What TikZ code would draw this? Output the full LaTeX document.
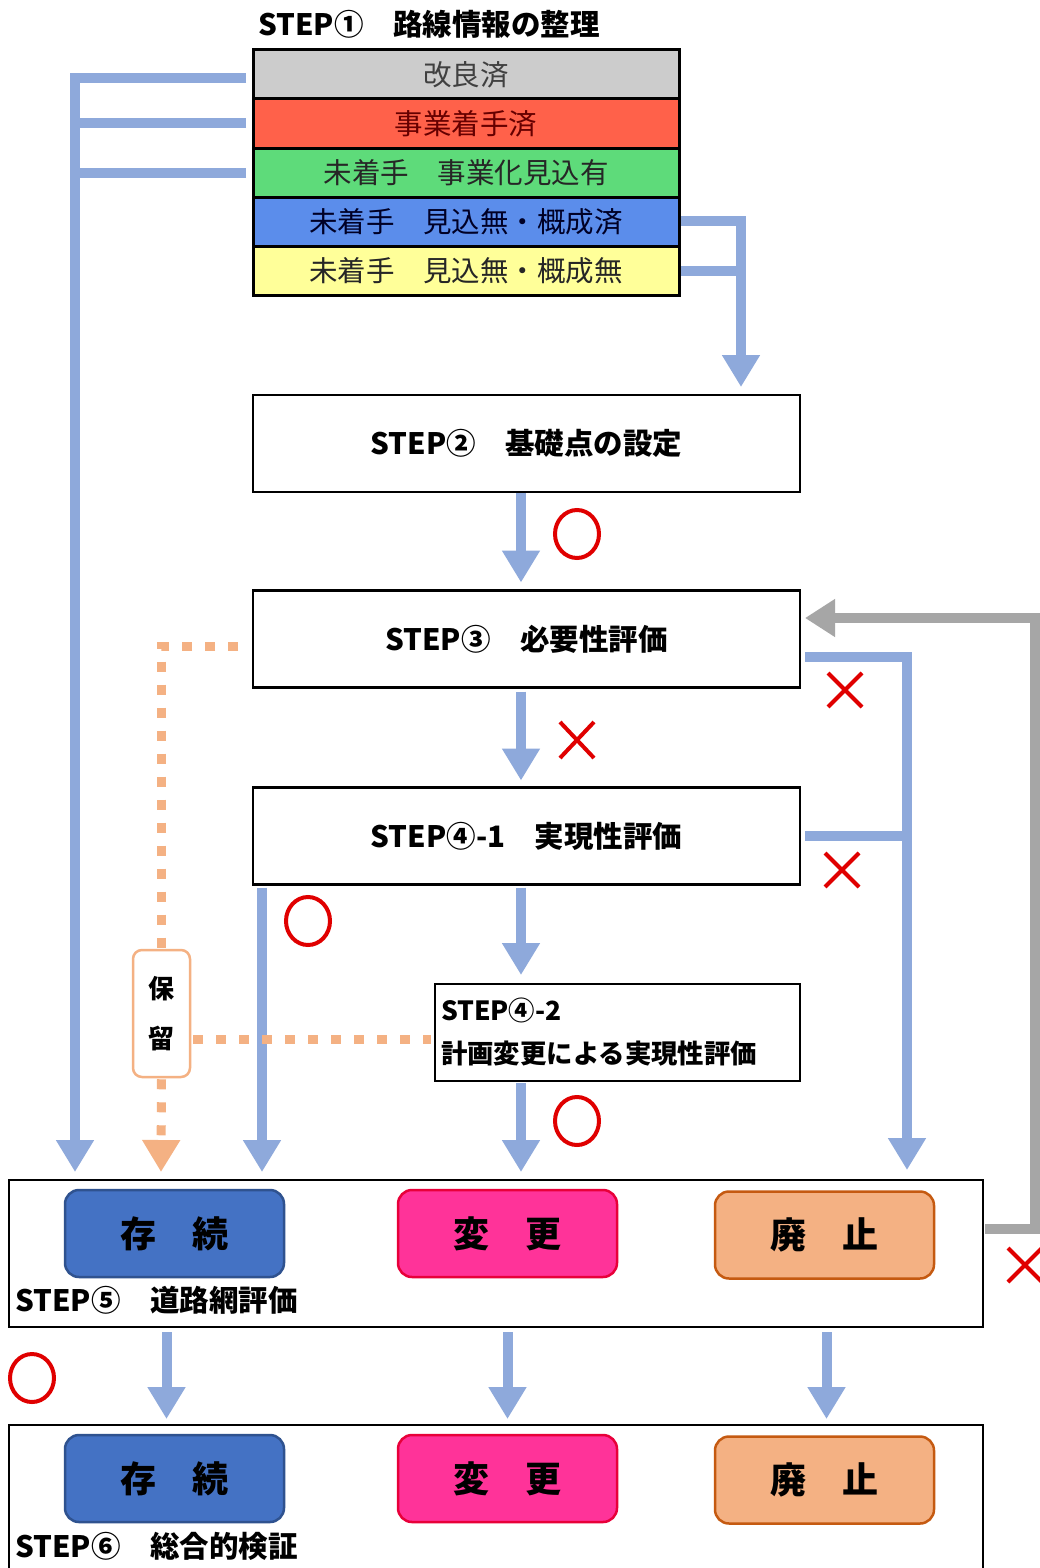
\documentclass[tikz,border=0pt]{standalone}
\usepackage{fontspec}
\setmainfont{Noto Sans CJK JP}
\usetikzlibrary{arrows.meta,calc}
\definecolor{arrblue}{HTML}{8EA9DB}
\definecolor{arrgray}{HTML}{A6A6A6}
\definecolor{dotorange}{HTML}{F4B183}
\definecolor{markred}{HTML}{E00000}
\definecolor{rowgray}{HTML}{CCCCCC}
\definecolor{rowred}{HTML}{FF614A}
\definecolor{rowgreen}{HTML}{5EDB7A}
\definecolor{rowblue}{HTML}{5B8DEB}
\definecolor{rowyellow}{HTML}{FFFF99}
\definecolor{keepfill}{HTML}{4472C4}
\definecolor{keepdraw}{HTML}{2F528F}
\definecolor{chgfill}{HTML}{FF3399}
\definecolor{chgdraw}{HTML}{E8003A}
\definecolor{abofill}{HTML}{F4B183}
\definecolor{abodraw}{HTML}{C55A11}
\begin{document}
\begin{tikzpicture}[x=1pt,y=-1pt,
  rowbox/.style={draw=black, line width=3pt, minimum width=426pt, minimum height=49pt,
    inner sep=0pt, outer sep=0pt, font=\fontsize{28.5}{30}\selectfont},
  stepbox/.style={draw=black, line width=2.5pt, minimum width=547pt, minimum height=97pt,
    inner sep=0pt, outer sep=0pt, font=\bfseries\fontsize{29.5}{32}\selectfont},
  bigbox/.style={draw=black, line width=2.5pt, minimum width=974pt,
    inner sep=0pt, outer sep=0pt},
  decbox/.style={rounded corners=14pt, line width=2.5pt, minimum width=219pt, minimum height=87pt,
    inner sep=0pt, font=\bfseries\fontsize{36}{38}\selectfont},
  steplabel/.style={anchor=west, inner sep=0pt, font=\bfseries\fontsize{29.5}{32}\selectfont},
  blueline/.style={draw=arrblue, line width=10pt},
  bluearrow/.style={blueline, -{Triangle[width=36pt,length=32pt]}},
  grayarrow/.style={draw=arrgray, line width=10pt, -{Triangle[width=36pt,length=30pt]}},
  orangedot/.style={draw=dotorange, line width=9pt, dash pattern=on 10pt off 13pt},
  orangearrow/.style={orangedot, -{Triangle[width=36pt,length=32pt]}},
  okmark/.style={draw=markred, line width=4pt},
  ngmark/.style={draw=markred, line width=4pt}
]
\clip (0,0) rectangle (1040,1568);
\fill[white] (0,0) rectangle (1040,1568);

% STEP 1
\node[inner sep=0pt, font=\bfseries\fontsize{29.5}{32}\selectfont] (title) at (429,24) {STEP①　路線情報の整理};
\node[rowbox, fill=rowgray, text=black!75] (r1) at (466,74.5) {改良済};
\node[rowbox, fill=rowred, text=black!60!red] (r2) at (466,123.5) {事業着手済};
\node[rowbox, fill=rowgreen, text=black!85] (r3) at (466,172.5) {未着手　事業化見込有};
\node[rowbox, fill=rowblue, text=black!85!blue] (r4) at (466,221.5) {未着手　見込無・概成済};
\node[rowbox, fill=rowyellow, text=black!85] (r5) at (466,270.5) {未着手　見込無・概成無};

% steps 2-4
\node[stepbox] (s2) at (526.5,443.5) {STEP②　基礎点の設定};
\node[stepbox] (s3) at (526.5,639) {STEP③　必要性評価};
\node[stepbox] (s41) at (526.5,836) {STEP④-1　実現性評価};
\node[draw=black, line width=2.5pt, minimum width=365pt, minimum height=97pt, text width=353pt,
  inner xsep=6pt, inner ysep=0pt, outer sep=0pt, align=left,
  font=\bfseries\fontsize{26.4}{43}\selectfont] (s42) at (617.5,1032.5) {STEP④-2\\計画変更による実現性評価};

% STEP 5 / 6 frames
\node[bigbox, minimum height=147pt] (s5) at (496,1253.5) {};
\node[bigbox, minimum height=160pt] (s6) at (496,1505) {};

% decision boxes
\node[decbox, fill=keepfill, draw=keepdraw] (k5) at (174.5,1233.5) {存　続};
\node[decbox, fill=chgfill, draw=chgdraw] (c5) at (507.5,1233.5) {変　更};
\node[decbox, fill=abofill, draw=abodraw] (a5) at (824.5,1235) {廃　止};
\node[decbox, fill=keepfill, draw=keepdraw] (k6) at (174.5,1478.5) {存　続};
\node[decbox, fill=chgfill, draw=chgdraw] (c6) at (507.5,1478.5) {変　更};
\node[decbox, fill=abofill, draw=abodraw] (a6) at (824.5,1480) {廃　止};
\node[steplabel] (l5) at (15,1300) {STEP⑤　道路網評価};
\node[steplabel] (l6) at (15,1546) {STEP⑥　総合的検証};

% hold box
\node[draw=dotorange, fill=white, line width=2.5pt, rounded corners=9pt, minimum width=57pt,
  minimum height=127pt, inner sep=0pt, align=center,
  font=\bfseries\fontsize{26}{50}\selectfont] (hold) at (161.5,1013.5) {保\\留};

% coordinates for arrow tips and bends
\coordinate (tipL) at (75,1172);
\coordinate (tipO) at (161,1172);
\coordinate (tipK) at (262,1172);
\coordinate (tipC) at (521,1172);
\coordinate (tipF) at (907,1170);
\coordinate (tipR) at (741,387);
\coordinate (g1) at (1035,618);

% blue connectors from STEP1
\draw[bluearrow] ([shift={(-7,4)}]r1.west) -| (tipL);
\draw[blueline] ([xshift=-7pt]r2.west) -- (r2.west -| tipL);
\draw[blueline] ([xshift=-7pt]r3.west) -- (r3.west -| tipL);
\draw[bluearrow] ([shift={(2,-1)}]r4.east) -| (tipR);
\draw[blueline] ([xshift=2pt]r5.east) -- (r5.east -| tipR);

% main vertical flow
\draw[bluearrow] ($(s2.south -| tipC)+(0,1)$) -- ($(s3.north -| tipC)+(0,-8)$);
\draw[bluearrow] ($(s3.south -| tipC)+(0,4)$) -- ($(s41.north -| tipC)+(0,-7)$);
\draw[bluearrow] ($(s41.south -| tipC)+(0,3)$) -- ($(s42.north -| tipC)+(0,-9)$);
\draw[bluearrow] ($(s42.south -| tipC)+(0,2)$) -- (tipC);
\draw[bluearrow] ($(s41.south -| tipK)+(0,3)$) -- (tipK);

% right side rejection lines
\draw[bluearrow] ([shift={(5,18)}]s3.east) -| (tipF);
\draw[blueline] ([xshift=5pt]s41.east) -- (s41.east -| tipF);

% gray loop back
\draw[grayarrow] ([shift={(2,-25)}]s5.east) -| (g1) -- ([shift={(5,-21)}]s3.east);

% orange dotted hold path
\draw[orangedot] ([shift={(-15,7)}]s3.west) -| (hold.north);
\draw[orangedot] ($(hold.east)+(2,26)$) -- ($(hold.east -| s42.west)+(-4,26)$);
\draw[orangearrow] ([yshift=-1pt]hold.south) -- (tipO);

% STEP5 -> STEP6
\draw[bluearrow] ([shift={(-8,5)}]k5.south |- s5.south) -- ([shift={(-8,-6)}]k6.north |- s6.north);
\draw[bluearrow] ([shift={(0,5)}]c5.south |- s5.south) -- ([shift={(0,-6)}]c6.north |- s6.north);
\draw[bluearrow] ([shift={(2,5)}]a5.south |- s5.south) -- ([shift={(2,-6)}]a6.north |- s6.north);

% marks
\draw[okmark] (577,534) ellipse [x radius=22pt, y radius=24pt];
\draw[okmark] (308,921) ellipse [x radius=22pt, y radius=24pt];
\draw[okmark] (577,1121) ellipse [x radius=22pt, y radius=24pt];
\draw[okmark] (32,1378) ellipse [x radius=22pt, y radius=24pt];
\draw[ngmark] (845,690) +(-17,-17) -- +(17,17) +(-17,17) -- +(17,-17);
\draw[ngmark] (577,740) +(-17,-18) -- +(17,18) +(-17,18) -- +(17,-18);
\draw[ngmark] (842,870) +(-17,-17) -- +(17,17) +(-17,17) -- +(17,-17);
\draw[ngmark] (1025,1265) +(-17,-17) -- +(17,17) +(-17,17) -- +(17,-17);
\end{tikzpicture}
\end{document}
